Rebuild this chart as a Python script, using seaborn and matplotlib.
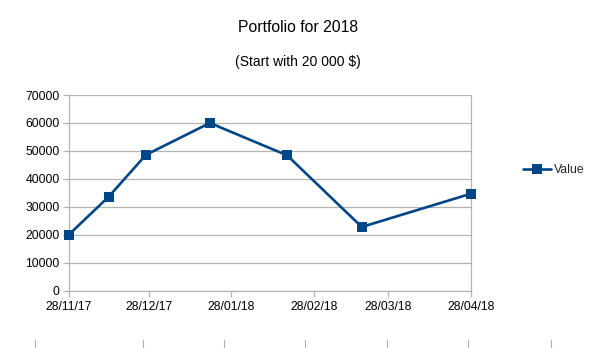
import matplotlib
matplotlib.use("Agg")
import matplotlib.pyplot as plt
from matplotlib.lines import Line2D
import pandas as pd
import seaborn as sns

# Portfolio valuations
dates = ["28/11/17", "13/12/17", "27/12/17", "20/01/18", "18/02/18", "18/03/18", "28/04/18"]
values = [20000, 33600, 48600, 60000, 48400, 22800, 34700]
series_name = "Value"

x_tick_labels = ["28/11/17", "28/12/17", "28/01/18", "28/02/18", "28/03/18", "28/04/18"]
y_ticks = [0, 10000, 20000, 30000, 40000, 50000, 60000, 70000]

df = pd.DataFrame({
    "date": pd.to_datetime(dates, format="%d/%m/%y"),
    "value": values,
})
tick_dates = pd.to_datetime(x_tick_labels, format="%d/%m/%y")

sns.set_style("white")
plt.rcParams["font.family"] = ["Liberation Sans", "DejaVu Sans"]

W, H = 595, 348
fig = plt.figure(figsize=(W / 100, H / 100), dpi=100)
ax = fig.add_axes([68.7 / W, 1 - 290.7 / H, (471 - 68.7) / W, (290.7 - 95) / H])

line_color = "#004586"
grid_color = "#b3b3b3"

sns.lineplot(data=df, x="date", y="value", ax=ax, color=line_color,
             linewidth=1.9, marker="s", markersize=7.2, markeredgewidth=0,
             label=series_name, legend=False, clip_on=False, zorder=5)

ax.set_xlim(tick_dates[0], tick_dates[-1])
ax.set_ylim(0, 70000)
ax.set_xticks(tick_dates)
ax.set_xticklabels(x_tick_labels)
ax.set_yticks(y_ticks)
ax.set_yticklabels([str(v) for v in y_ticks])
ax.set_xlabel("")
ax.set_ylabel("")

ax.yaxis.grid(True, color=grid_color, linewidth=0.9)
ax.xaxis.grid(False)
ax.set_axisbelow(True)
for side in ["left", "bottom", "right"]:
    ax.spines[side].set_visible(True)
    ax.spines[side].set_color(grid_color)
    ax.spines[side].set_linewidth(0.9)
    ax.spines[side].set_zorder(1)
ax.spines["top"].set_visible(False)

ax.tick_params(axis="both", which="major", direction="out", length=4.5,
               width=0.9, color=grid_color, labelsize=8.8, labelcolor="black",
               left=True, bottom=True)
ax.tick_params(axis="y", pad=2)
ax.tick_params(axis="x", pad=3)

fig.text(0.5, 1 - 27 / H, "Portfolio for 2018", ha="center", va="center",
         fontsize=11.3, color="black")
fig.text(0.5, 1 - 61.7 / H, "(Start with 20 000 $)", ha="center", va="center",
         fontsize=10, color="black")

handle = Line2D([], [], color=line_color, linewidth=1.9, marker="s",
                markersize=7.2, markeredgewidth=0)
fig.legend([handle], [series_name], loc="center left",
           bbox_to_anchor=(522.7 / W, 1 - 170 / H), frameon=False,
           borderpad=0, borderaxespad=0, handlelength=2.3,
           handletextpad=0.25, fontsize=8.8)

# short cell-border marks along the bottom edge
for xp in [35, 143, 224, 305, 387, 468, 551]:
    fig.add_artist(Line2D([xp / W, xp / W], [0, 8 / H], color="#b0b0b0",
                          linewidth=0.75))

fig.savefig("out.png", dpi=100)
